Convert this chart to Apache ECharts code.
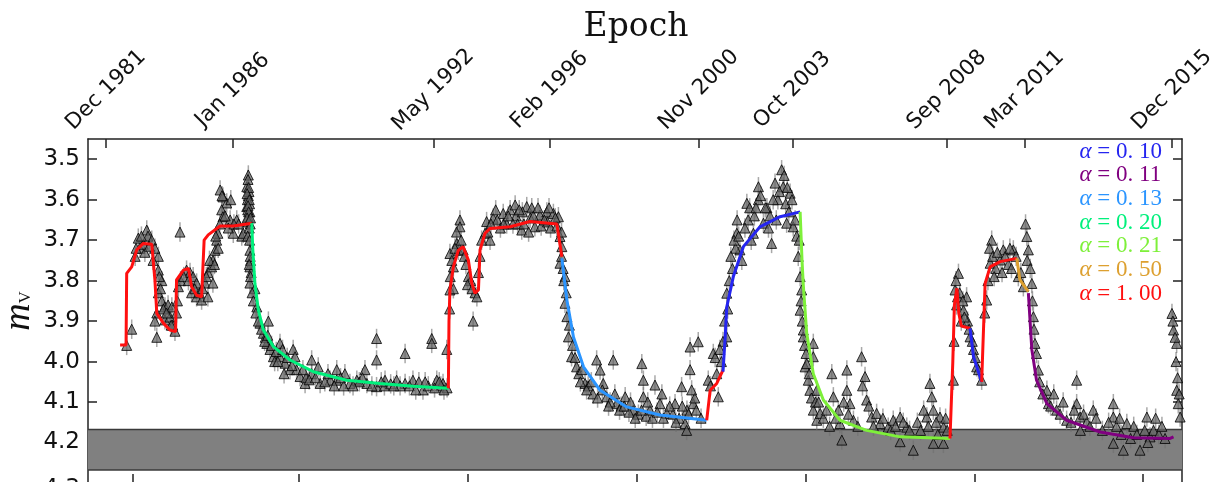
<!DOCTYPE html>
<html>
<head>
<meta charset="utf-8">
<script src="https://cdn.jsdelivr.net/npm/echarts@6/dist/echarts.min.js"></script>
<style>html,body{margin:0;padding:0;background:#fff}#c{width:1223px;height:482px}</style>
</head>
<body>
<div id="c"></div>
<script>
// ---- axis ticks / labels ----
const X_MIN = 1981.346, X_MAX = 2016.24;
const Y_MIN = 3.45, Y_MAX = 4.30;
const TOP_TICKS = [1981.92, 1985.96, 1992.36, 1996.07, 2000.83, 2003.81, 2008.74, 2011.22, 2015.92];
const TOP_LABELS = ['Dec 1981','Jan 1986','May 1992','Feb 1996','Nov 2000','Oct 2003','Sep 2008','Mar 2011','Dec 2015'];
const BOTTOM_TICKS = [1982.78, 1988.08, 1993.47, 1998.86, 2004.25, 2009.64, 2015.00];
const Y_TICKS = [3.5, 3.6, 3.7, 3.8, 3.9, 4.0, 4.1, 4.2, 4.3];
const BAND = [4.168, 4.268];
const ERR = 0.024;

// ---- observations [year, mV] ----
const OBS_A = [
[1982.58,3.96],[1982.74,3.92],[1982.95,3.695],[1983.22,3.675],[1983.26,3.69],[1983.38,3.70],[1983.00,3.72],[1983.16,3.73],
[1982.85,3.74],[1983.59,3.74],[1983.11,3.71],[1983.48,3.72],[1983.59,3.774],[1983.70,3.80],[1983.59,3.83],[1983.70,3.85],
[1983.54,3.88],[1983.48,3.90],[1983.80,3.865],[1983.90,3.86],[1984.02,3.865],[1983.80,3.897],[1983.96,3.89],[1983.54,3.94],
[1984.05,3.91],[1984.12,3.925],[1984.17,3.88],[1984.28,3.68],[1984.23,3.815],[1984.49,3.774],[1984.60,3.78],[1984.70,3.79],
[1984.81,3.806],[1984.65,3.83],[1984.81,3.84],[1984.97,3.848],[1985.17,3.84],[1985.08,3.806],[1985.17,3.78],[1985.29,3.766],
[1985.33,3.75],[1985.40,3.725],[1985.45,3.70],[1985.33,3.806],[1985.49,3.683],[1985.56,3.576],[1985.65,3.593],[1985.77,3.608],
[1985.61,3.625],[1985.65,3.642],[1985.88,3.65],[1986.09,3.65],[1985.98,3.683],[1986.25,3.69],[1986.46,3.539],[1986.41,3.568],
[1986.46,3.59],[1986.41,3.617],[1986.46,3.642],[1986.51,3.63],[1986.46,3.655],[1986.30,3.683],[1986.43,3.60],[1986.48,3.58],
[1986.44,3.625],[1986.50,3.61],[1986.52,3.66],
[1982.88,3.72],[1983.05,3.69],[1983.30,3.715],[1983.42,3.75],[1983.62,3.79],[1983.66,3.82],[1983.75,3.87],[1983.85,3.88],
[1984.00,3.91],[1984.20,3.85],[1984.30,3.80],[1984.40,3.79],[1984.55,3.80],[1984.75,3.82],[1984.90,3.83],[1985.00,3.82],
[1985.12,3.79],[1985.22,3.75],[1985.38,3.76],[1985.42,3.69],[1985.50,3.72],
[1986.45,3.55],[1986.47,3.57],[1986.42,3.585],[1986.49,3.60],[1986.45,3.615],[1986.47,3.63],[1986.42,3.645],[1986.53,3.645],
[1986.49,3.67],[1986.44,3.69],[1986.50,3.70],[1985.55,3.66],[1985.72,3.64],[1985.82,3.67],[1986.00,3.66],[1986.15,3.66],
[1985.90,3.60],[1985.62,3.59]
];
const OBS_B = [
[1986.51,3.725],[1986.51,3.766],[1986.51,3.806],[1986.53,3.75],[1986.55,3.78],[1986.67,3.82],[1986.73,3.865],[1986.83,3.905],
[1986.94,3.93],[1987.10,3.90],[1987.05,3.955],[1987.15,3.97],[1987.47,3.955],[1987.26,3.988],[1987.47,3.988],[1987.63,4.004],
[1987.89,3.97],[1987.95,3.988],[1987.79,4.02],[1988.11,4.037],[1988.48,3.996],[1988.69,4.013],[1988.48,4.03],[1988.27,4.054],
[1988.75,4.054],[1989.07,4.046],[1989.28,4.02],[1989.28,4.046],[1989.54,4.03],[1989.70,4.054],[1989.92,4.046],[1990.18,4.02],
[1990.24,4.054],[1990.55,3.943],[1990.55,3.996],[1990.55,4.062],[1990.82,4.046],[1991.19,4.046],[1991.46,3.98],[1991.46,4.054],
[1991.71,4.046],[1992.03,4.07],[1992.31,3.943],[1992.31,3.955],[1992.47,4.046],[1992.67,4.054],[1992.79,3.97],
[1987.00,3.94],[1987.30,4.00],[1987.60,4.03],[1988.00,4.02],[1988.30,4.04],[1988.90,4.05],[1989.50,4.06],[1990.00,4.05],
[1990.80,4.06],[1991.00,4.055],[1991.30,4.06],[1991.90,4.05],[1992.20,4.06],[1992.60,4.06],[1992.80,4.065],
[1986.52,3.74],[1986.49,3.76],[1986.53,3.79],[1986.58,3.83],[1986.62,3.85],[1986.70,3.88],[1986.78,3.90],[1986.88,3.92],
[1986.98,3.95],[1987.08,3.935],[1987.20,3.96],[1987.35,3.975],[1987.40,4.00],[1987.55,3.97],[1987.70,3.99],[1987.85,4.01],
[1988.20,4.02],[1988.40,4.045],[1988.60,4.04],[1989.00,4.03],[1989.20,4.06],[1989.40,4.04],[1989.80,4.06],[1990.10,4.04],
[1990.40,4.06],[1990.70,4.05],[1991.10,4.06],[1991.60,4.06],[1991.80,4.07],[1992.10,4.05],[1992.40,4.065],[1992.55,4.05],
[1992.70,4.07]
];
const OBS_C = [
[1992.89,3.823],[1993.00,3.766],[1993.16,3.725],[1993.21,3.65],[1993.21,3.667],[1993.11,3.708],[1992.89,3.733],[1993.31,3.724],
[1993.48,3.79],[1993.55,3.80],[1993.69,3.83],[1993.63,3.90],[1993.80,3.78],[1993.85,3.74],[1994.01,3.683],[1994.06,3.654],
[1994.17,3.70],[1994.27,3.646],[1994.59,3.634],[1994.81,3.625],[1994.97,3.613],[1995.18,3.675],[1995.34,3.617],[1995.50,3.62],
[1995.60,3.667],[1995.76,3.638],[1995.98,3.63],[1996.19,3.634],[1996.35,3.642],[1996.40,3.691],[1996.46,3.716],[1996.40,3.757],
[1996.56,3.79],[1994.40,3.65],[1994.70,3.66],[1995.00,3.64],[1995.20,3.63],[1995.80,3.665],[1996.00,3.655],[1996.10,3.67],
[1996.30,3.665],[1994.90,3.66],[1995.45,3.645],[1993.35,3.74],[1993.00,3.82],
[1992.88,3.87],[1992.90,3.79],[1992.95,3.75],[1993.05,3.72],[1993.10,3.68],[1993.25,3.70],[1993.40,3.76],[1993.45,3.81],
[1993.60,3.82],[1993.75,3.84],[1993.90,3.70],[1994.10,3.68],[1994.20,3.66],[1994.35,3.625],[1994.50,3.67],[1994.60,3.66],
[1994.75,3.64],[1995.05,3.66],[1995.10,3.625],[1995.25,3.66],[1995.40,3.68],[1995.55,3.64],[1995.70,3.62],[1995.90,3.65],
[1996.05,3.62],[1996.25,3.645],[1996.45,3.74],[1996.50,3.77],[1996.52,3.80],[1996.45,3.68]
];
const OBS_D = [
[1996.56,3.856],[1996.62,3.889],[1996.67,3.939],[1996.77,3.988],[1996.93,4.013],[1997.20,4.054],[1997.57,3.996],[1997.68,4.021],
[1997.78,4.054],[1998.10,3.996],[1997.89,4.087],[1998.21,4.104],[1998.48,4.087],[1998.74,4.12],[1999.01,4.005],[1999.06,4.046],
[1999.06,4.087],[1999.27,4.12],[1999.43,4.058],[1999.59,4.104],[1999.81,4.128],[2000.07,4.104],[2000.28,4.062],[2000.39,4.153],
[2000.44,4.17],[2000.55,3.964],[2000.55,4.02],[2000.81,3.951],[2000.65,4.104],[2000.70,4.09],
[1997.00,4.03],[1997.30,4.06],[1997.45,4.08],[1998.00,4.10],[1998.35,4.11],[1998.60,4.125],[1998.90,4.13],[1999.15,4.135],
[1999.70,4.14],[2000.00,4.13],[2000.20,4.14],[2000.45,4.12],
[1996.60,3.83],[1996.70,3.91],[1996.80,3.96],[1996.88,3.99],[1997.05,4.05],[1997.10,4.02],[1997.25,4.07],[1997.40,4.05],
[1997.60,4.09],[1997.75,4.07],[1997.95,4.11],[1998.15,4.08],[1998.30,4.12],[1998.45,4.11],[1998.65,4.10],[1998.80,4.14],
[1999.00,4.12],[1999.20,4.10],[1999.35,4.14],[1999.50,4.125],[1999.65,4.08],[1999.90,4.11],[2000.10,4.15],[2000.30,4.11],
[2000.50,4.13],[2000.60,4.07],[2000.75,4.12],[2000.90,4.14]
];
const OBS_E = [
[2001.13,4.046],[2001.29,3.98],[2001.35,3.99],[2001.45,4.087],[2001.40,4.03],[2001.72,3.939],[2001.72,3.831],[2001.80,3.80],
[2002.04,3.683],[2002.14,3.724],[2002.20,3.75],[2002.36,3.609],[2002.40,3.65],[2002.57,3.683],[2002.73,3.568],[2002.73,3.60],
[2002.89,3.658],[2003.15,3.708],[2003.26,3.559],[2003.47,3.526],[2003.52,3.568],[2003.74,3.584],[2003.63,3.658],[2003.84,3.667],
[2003.00,3.62],[2003.35,3.60],[2001.60,3.95],[2001.90,3.77],[2002.00,3.72],[2002.60,3.64],[2003.10,3.64],[2003.60,3.61],
[2001.20,4.06],[2001.50,3.97],[2001.55,4.00],[2001.65,3.90],[2001.75,3.87],[2001.85,3.74],[2001.95,3.70],[2002.05,3.65],
[2002.10,3.69],[2002.30,3.67],[2002.45,3.62],[2002.50,3.70],[2002.65,3.62],[2002.80,3.59],[2002.95,3.62],[2003.05,3.67],
[2003.20,3.60],[2003.30,3.65],[2003.40,3.58],[2003.55,3.54],[2003.65,3.57],[2003.70,3.63],[2003.80,3.60],[2003.90,3.65],
[2003.95,3.69]
];
const OBS_F = [
[2004.00,3.74],[2004.06,3.79],[2004.06,3.873],[2004.16,3.939],[2004.22,4.013],[2004.37,4.071],[2004.48,4.12],[2004.59,4.145],
[2004.11,3.823],[2004.16,3.922],[2004.27,4.005],[2004.32,4.046],[2004.48,3.955],[2004.48,3.988],[2004.59,4.071],[2004.70,4.128],
[2005.07,4.03],[2005.12,4.087],[2005.28,4.12],[2005.33,4.153],[2005.39,4.194],[2005.55,4.021],[2005.55,4.071],[2005.65,4.104],
[2005.76,4.145],[2006.02,3.988],[2006.13,4.037],[2006.18,4.095],[2006.34,4.137],[2006.50,4.128],[2006.61,4.153],[2006.87,4.162],
[2007.03,4.145],[2007.25,4.137],[2007.25,4.198],[2007.46,4.162],[2007.67,4.219],[2007.80,4.15],[2008.10,4.137],[2008.20,4.054],
[2008.26,4.087],[2008.31,4.12],[2008.31,4.202],[2008.52,4.137],[2008.63,4.162],[2008.63,4.202],[2008.75,4.17],
[2004.03,3.70],[2004.09,3.85],[2004.13,3.90],[2004.20,3.96],[2004.25,3.98],[2004.35,4.03],[2004.42,4.09],[2004.55,4.10],
[2004.65,4.10],[2004.80,4.14],[2004.90,4.12],[2005.00,4.16],[2005.20,4.14],[2005.45,4.10],[2005.60,4.13],[2005.90,4.16],
[2006.05,4.06],[2006.25,4.11],[2006.40,4.16],[2006.70,4.14],[2006.95,4.17],[2007.10,4.16],[2007.35,4.15],[2007.55,4.17],
[2007.90,4.17],[2008.00,4.12],[2008.15,4.16],[2008.40,4.15],[2008.45,4.18],[2008.70,4.14]
];
const OBS_G = [
[2008.95,4.046],[2009.00,3.823],[2009.11,3.782],[2009.27,3.873],[2009.37,3.84],[2009.48,3.939],[2009.59,3.97],[2009.69,4.013],
[2009.85,4.046],[2010.01,3.848],[2010.12,3.757],[2010.17,3.70],[2010.44,3.749],[2010.54,3.724],[2010.86,3.724],[2011.02,3.79],
[2011.18,3.815],[2011.29,3.691],[2011.34,3.724],[2011.45,3.807],[2010.30,3.77],[2010.70,3.76],[2009.05,3.86],[2009.20,3.90],
[2009.40,3.90],
[2008.97,3.95],[2009.03,3.80],[2009.08,3.84],[2009.15,3.83],[2009.25,3.85],[2009.30,3.89],[2009.45,3.92],[2009.55,3.95],
[2009.65,3.99],[2009.75,4.02],[2009.95,3.88],[2010.05,3.80],[2010.10,3.72],[2010.20,3.74],[2010.25,3.79],[2010.35,3.73],
[2010.50,3.78],[2010.60,3.74],[2010.75,3.72],[2010.80,3.77],[2010.95,3.74],[2011.10,3.78],[2011.25,3.66],[2011.30,3.75],
[2011.40,3.77]
];
const OBS_H = [
[2011.50,3.889],[2011.55,3.955],[2011.66,4.021],[2011.93,4.071],[2011.98,4.104],[2012.24,4.12],[2012.56,4.145],[2012.88,4.046],
[2012.88,4.104],[2012.99,4.137],[2013.41,4.12],[2014.05,4.104],[2014.05,4.137],[2014.05,4.202],[2014.37,4.219],[2014.48,4.153],
[2014.90,4.219],[2015.12,4.137],[2015.22,4.186],[2015.33,4.17],[2015.92,3.881],[2015.97,3.922],[2016.07,3.955],[2016.07,4.071],
[2016.12,4.104],[2016.18,4.137],[2013.00,4.17],[2013.20,4.15],[2013.70,4.17],[2014.30,4.18],[2014.70,4.16],[2015.50,4.18],
[2015.70,4.19],
[2011.47,3.85],[2011.52,3.92],[2011.60,3.98],[2011.70,4.05],[2011.80,4.08],[2012.05,4.11],[2012.15,4.08],[2012.35,4.13],
[2012.45,4.10],[2012.70,4.15],[2012.80,4.12],[2013.10,4.13],[2013.30,4.16],[2013.50,4.14],[2013.90,4.15],[2014.15,4.16],
[2014.25,4.14],[2014.60,4.19],[2014.80,4.18],[2015.05,4.17],[2015.15,4.20],[2015.40,4.14],[2015.60,4.16],[2015.95,3.90],
[2016.02,3.94],[2016.05,4.00],[2016.10,4.04],[2016.15,4.08]
];

// ---- model curves ----
const RED_1 = [[1982.37,3.959],[1982.56,3.959],[1982.58,3.782],[1982.74,3.766],[1982.90,3.724],[1983.11,3.708],[1983.38,3.71],
[1983.48,3.798],[1983.54,3.881],[1983.75,3.905],[1983.96,3.922],[1984.14,3.926],[1984.17,3.798],[1984.39,3.774],[1984.55,3.77],
[1984.65,3.815],[1984.81,3.836],[1984.97,3.84],[1985.05,3.70],[1985.18,3.687],[1985.56,3.665],[1985.98,3.665],[1986.57,3.658]];
const GREEN_020 = [[1986.57,3.658],[1986.60,3.72],[1986.67,3.807],[1986.78,3.873],[1986.94,3.922],[1987.26,3.963],[1987.79,3.996],
[1988.53,4.025],[1989.60,4.046],[1990.66,4.054],[1991.72,4.061],[1992.84,4.066]];
const RED_2 = [[1992.84,4.066],[1992.86,3.90],[1992.89,3.823],[1993.00,3.766],[1993.16,3.725],[1993.31,3.716],[1993.48,3.75],
[1993.59,3.807],[1993.69,3.831],[1993.80,3.823],[1993.85,3.724],[1994.01,3.683],[1994.17,3.671],[1994.81,3.667],[1995.44,3.654],
[1995.87,3.657],[1996.30,3.66],[1996.46,3.741]];
const BLUE_013 = [[1996.46,3.745],[1996.62,3.848],[1996.83,3.939],[1997.15,4.013],[1997.68,4.071],[1998.53,4.112],[1999.59,4.132],[2001.08,4.145]];
const RED_3 = [[2001.08,4.145],[2001.12,4.145],[2001.19,4.071],[2001.40,4.054],[2001.60,4.021]];
const BLUE_010_A = [[2001.60,4.025],[2001.67,3.939],[2001.72,3.865],[2001.93,3.79],[2002.25,3.716],[2002.78,3.667],[2003.42,3.642],[2004.06,3.63]];
const GREEN_021 = [[2004.06,3.63],[2004.12,3.75],[2004.16,3.81],[2004.27,3.93],[2004.48,4.03],[2004.80,4.095],[2005.33,4.145],
[2006.18,4.17],[2007.25,4.186],[2008.84,4.19]];
const RED_4 = [[2008.84,4.19],[2008.90,4.19],[2008.93,4.0],[2008.98,3.86],[2009.06,3.819],[2009.12,3.88],[2009.20,3.912],[2009.48,3.918]];
const BLUE_010_B = [[2009.48,3.918],[2009.59,3.988],[2009.85,4.05]];
const RED_5 = [[2009.85,4.05],[2009.89,4.05],[2009.96,3.807],[2010.12,3.766],[2010.44,3.753],[2010.97,3.745]];
const ORANGE_050 = [[2010.97,3.745],[2011.07,3.798],[2011.34,3.827]];
const PURPLE_011 = [[2011.34,3.831],[2011.45,3.97],[2011.60,4.046],[2011.93,4.104],[2012.56,4.145],[2013.63,4.174],[2014.69,4.188],[2015.86,4.19],[2015.97,4.186]];

const LEGEND_LABELS = ['0. 10','0. 11','0. 13','0. 20','0. 21','0. 50','1. 00'];
const LEGEND_COLORS = ['#2525f0','#800080','#2b95ff','#00f07c','#7ef03a','#dda030','#ff1010'];

const OBS = [].concat(OBS_A, OBS_B, OBS_C, OBS_D, OBS_E, OBS_F, OBS_G, OBS_H);

const chart = echarts.init(document.getElementById('c'), null, {renderer: 'canvas'});

function lineSeries(data, color) {
  return {type: 'line', data: data, xAxisIndex: 0, yAxisIndex: 0, showSymbol: false, symbol: 'none',
    lineStyle: {color: color, width: 3}, z: 10, silent: true, animation: false};
}

const rich = {};
let legendText = [];
LEGEND_LABELS.forEach((l, i) => {
  rich['a' + i] = {fontFamily: 'Liberation Serif', fontStyle: 'italic', fontSize: 23, fill: LEGEND_COLORS[i], lineHeight: 23.7};
  rich['b' + i] = {fontFamily: 'Liberation Serif', fontSize: 23, fill: LEGEND_COLORS[i], lineHeight: 23.7};
  legendText.push('{a' + i + '|α}{b' + i + '| = ' + l + '}');
});

const axisLineStyle = {color: '#222', width: 1.5};

chart.setOption({
  animation: false,
  backgroundColor: '#fff',
  title: {text: 'Epoch', left: 631, textAlign: 'center', top: 6,
    textStyle: {fontFamily: 'DejaVu Serif', fontWeight: 'normal', fontSize: 33, color: '#111'}},
  grid: {left: 88, right: 41, top: 139, bottom: -1, containLabel: false, outerBoundsMode: 'none'},
  xAxis: [
    {type: 'value', position: 'top', min: X_MIN, max: X_MAX,
      axisLine: {show: true, lineStyle: axisLineStyle},
      axisTick: {show: true, inside: true, length: 9, lineStyle: {color: '#222', width: 1.5}, customValues: TOP_TICKS},
      axisLabel: {show: true, rotate: -45, align: 'center', verticalAlign: 'middle', margin: 49, hideOverlap: false,
        customValues: TOP_TICKS, fontFamily: 'DejaVu Sans', fontSize: 21.5, color: '#111',
        formatter: function (v) {
          let best = 0, d = 1e9;
          TOP_TICKS.forEach((t, i) => { if (Math.abs(t - v) < d) { d = Math.abs(t - v); best = i; } });
          return TOP_LABELS[best];
        }},
      splitLine: {show: false}},
    {type: 'value', position: 'bottom', min: X_MIN, max: X_MAX,
      axisLine: {show: true, lineStyle: axisLineStyle},
      axisTick: {show: true, inside: true, length: 9, lineStyle: {color: '#222', width: 1.5}, customValues: BOTTOM_TICKS},
      axisLabel: {show: false},
      splitLine: {show: false}}
  ],
  yAxis: [
    {type: 'value', inverse: true, min: Y_MIN, max: Y_MAX, position: 'left',
      name: '{m|m}{v|V}', nameLocation: 'middle', nameRotate: 90, nameGap: 50, nameMoveOverlap: false,
      nameTextStyle: {rich: {
        m: {fontFamily: 'Liberation Serif', fontStyle: 'italic', fontSize: 38, color: '#111'},
        v: {fontFamily: 'Liberation Serif', fontSize: 17, color: '#111', padding: [14, 0, 0, 0]}
      }},
      axisLine: {show: true, lineStyle: axisLineStyle},
      axisTick: {show: true, inside: true, length: 9, lineStyle: {color: '#222', width: 1.5}, customValues: Y_TICKS},
      axisLabel: {show: true, customValues: Y_TICKS, margin: 8, fontFamily: 'DejaVu Sans', fontSize: 23, color: '#111',
        formatter: v => (v > 4.25 ? '{low|' + v.toFixed(1) + '}' : v.toFixed(1)),
        rich: {low: {fontFamily: 'DejaVu Sans', fontSize: 23, color: '#111', padding: [13, 0, 0, 0]}}},
      splitLine: {show: false}},
    {type: 'value', inverse: true, min: Y_MIN, max: Y_MAX, position: 'right',
      axisLine: {show: true, lineStyle: axisLineStyle},
      axisTick: {show: true, inside: true, length: 9, lineStyle: {color: '#222', width: 1.5}, customValues: Y_TICKS},
      axisLabel: {show: false},
      splitLine: {show: false}}
  ],
  graphic: [{
    type: 'text', right: 61, top: 140, z: 100,
    style: {text: legendText.join('\n'), rich: rich, align: 'right'}
  }],
  series: [
    {type: 'custom', xAxisIndex: 0, yAxisIndex: 0, z: 1, silent: true, data: [BAND],
      renderItem: function (params, api) {
        const cs = params.coordSys;
        const y1 = api.coord([X_MIN, api.value(0)])[1];
        const y2 = api.coord([X_MIN, api.value(1)])[1];
        return {type: 'group', children: [
          {type: 'rect', shape: {x: cs.x, y: y1, width: cs.width, height: y2 - y1}, style: {fill: '#808080'}},
          {type: 'line', shape: {x1: cs.x, y1: y1, x2: cs.x + cs.width, y2: y1}, style: {stroke: '#3a3a3a', lineWidth: 1.5}},
          {type: 'line', shape: {x1: cs.x, y1: y2, x2: cs.x + cs.width, y2: y2}, style: {stroke: '#3a3a3a', lineWidth: 1.5}}
        ]};
      }},
    {type: 'custom', xAxisIndex: 0, yAxisIndex: 0, z: 3, silent: true, data: OBS,
      renderItem: function (params, api) {
        const x = api.value(0), y = api.value(1);
        const p1 = api.coord([x, y - ERR]);
        const p2 = api.coord([x, y + ERR]);
        return {type: 'line', shape: {x1: p1[0], y1: p1[1], x2: p2[0], y2: p2[1]},
          style: {stroke: 'rgba(110,110,110,0.6)', lineWidth: 1.5}};
      }},
    {type: 'scatter', xAxisIndex: 0, yAxisIndex: 0, z: 5, silent: true, data: OBS,
      symbol: 'triangle', symbolSize: [10, 10],
      itemStyle: {color: 'rgba(100,100,100,0.9)', borderColor: '#000', borderWidth: 1}},
    lineSeries(RED_1, LEGEND_COLORS[6]),
    lineSeries(GREEN_020, LEGEND_COLORS[3]),
    lineSeries(RED_2, LEGEND_COLORS[6]),
    lineSeries(BLUE_013, LEGEND_COLORS[2]),
    lineSeries(RED_3, LEGEND_COLORS[6]),
    lineSeries(BLUE_010_A, LEGEND_COLORS[0]),
    lineSeries(GREEN_021, LEGEND_COLORS[4]),
    lineSeries(RED_4, LEGEND_COLORS[6]),
    lineSeries(BLUE_010_B, LEGEND_COLORS[0]),
    lineSeries(RED_5, LEGEND_COLORS[6]),
    lineSeries(ORANGE_050, LEGEND_COLORS[5]),
    lineSeries(PURPLE_011, LEGEND_COLORS[1])
  ]
});
</script>
</body>
</html>
